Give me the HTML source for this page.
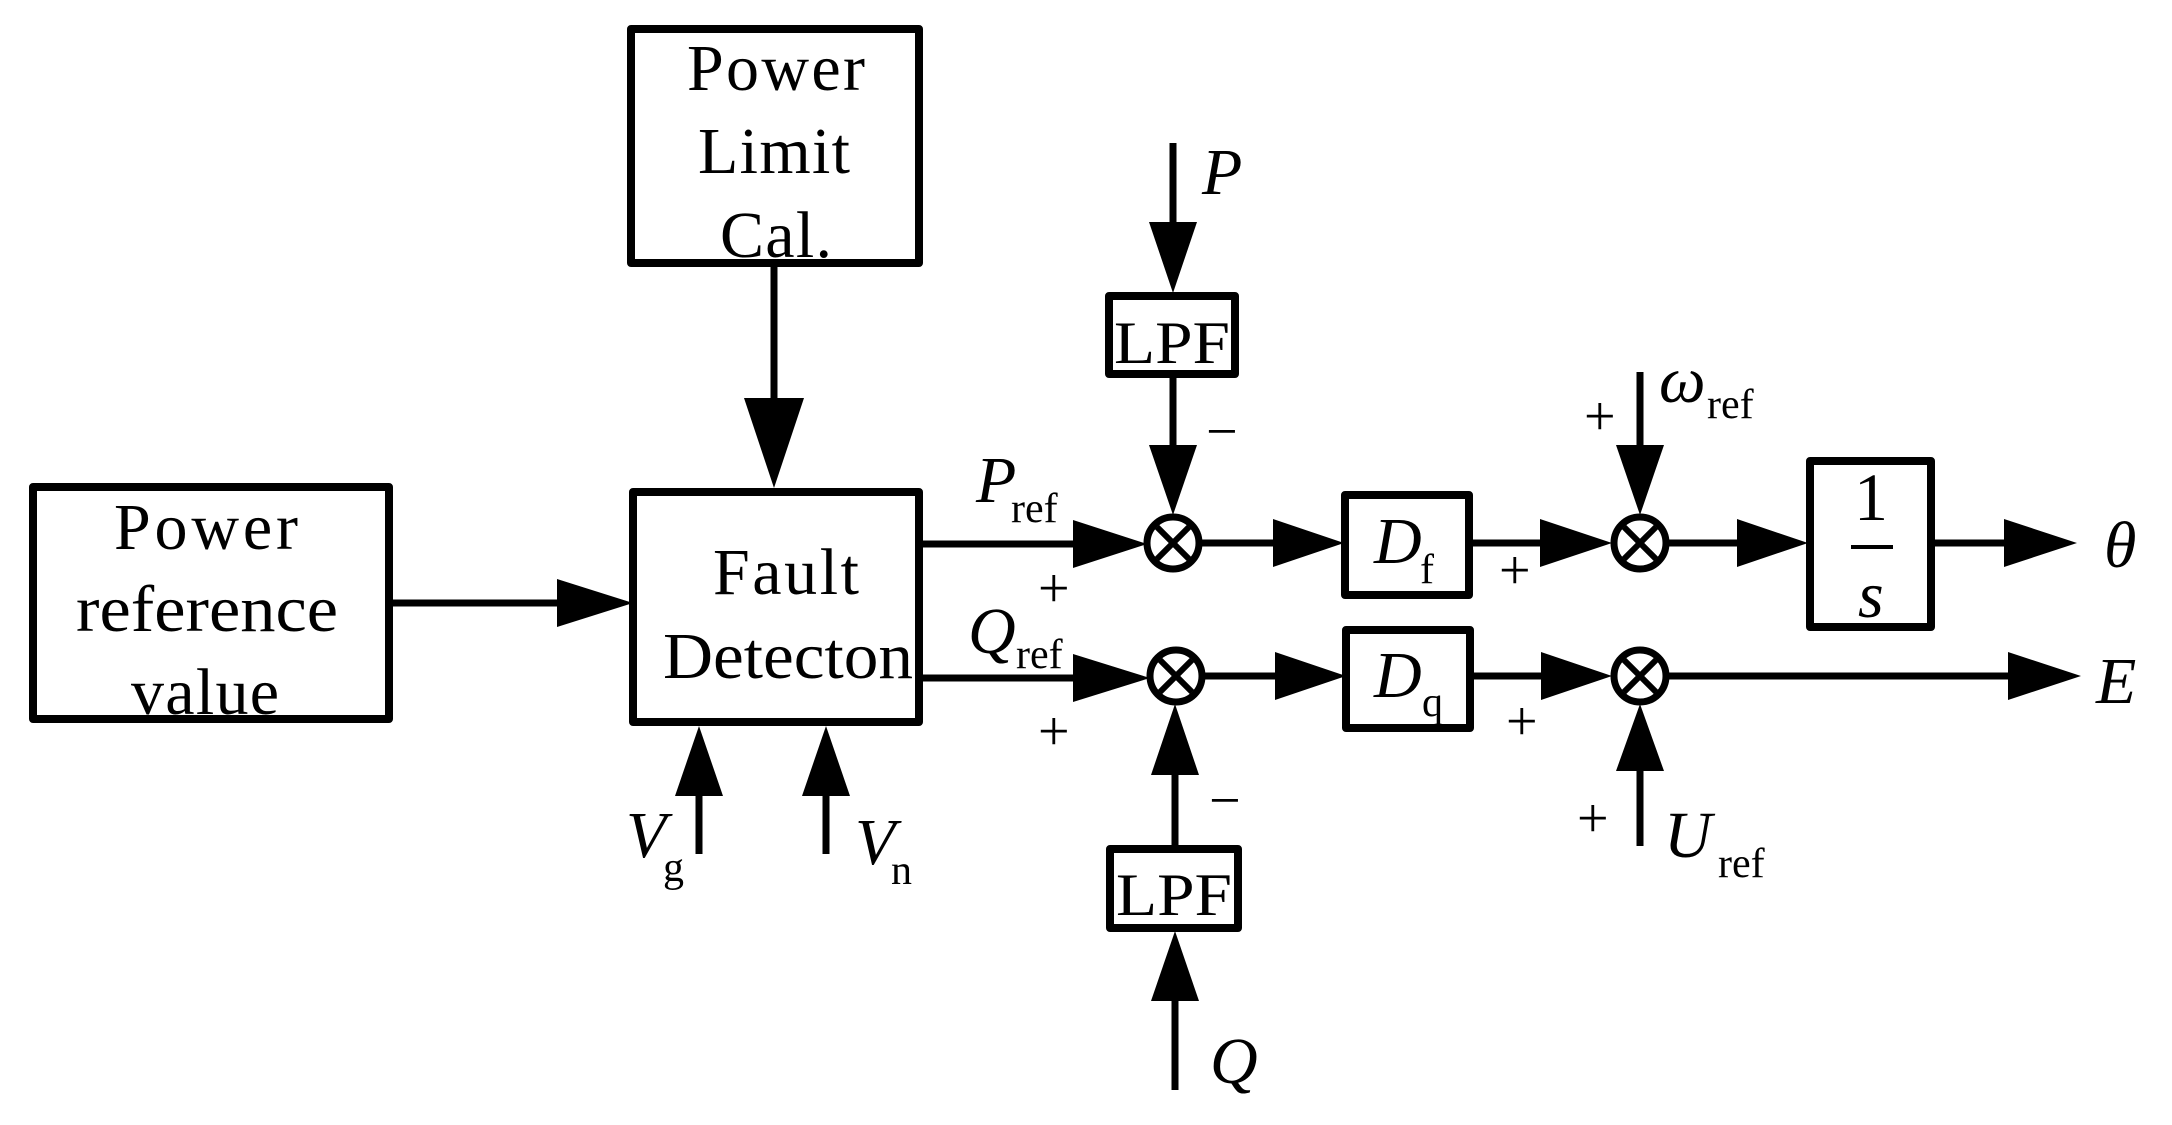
<!DOCTYPE html>
<html><head><meta charset="utf-8"><style>
html,body{margin:0;padding:0;background:#fff;}
svg{display:block;}
text{font-family:"Liberation Serif",serif;fill:#000;}
.i{font-style:italic;}
</style></head><body>
<svg width="2172" height="1125" viewBox="0 0 2172 1125" xmlns="http://www.w3.org/2000/svg">
<g fill="none" stroke="#000" stroke-width="8" stroke-linejoin="round">
<rect x="631" y="29" width="288" height="234"/>
<rect x="33" y="487" width="356" height="232"/>
<rect x="633" y="492" width="286" height="230"/>
<rect x="1109" y="296" width="126" height="78"/>
<rect x="1110" y="849" width="128" height="79"/>
<rect x="1345" y="495" width="124" height="100"/>
<rect x="1346" y="630" width="124" height="98"/>
<rect x="1810" y="461" width="121" height="166"/>
</g>
<g fill="none" stroke="#000" stroke-width="7">
<line x1="774" y1="263" x2="774" y2="400"/>
<line x1="389" y1="603" x2="560" y2="603"/>
<line x1="919" y1="544" x2="1075" y2="544"/>
<line x1="919" y1="678" x2="1075" y2="678"/>
<line x1="699" y1="854" x2="699" y2="790"/>
<line x1="826" y1="854" x2="826" y2="790"/>
<line x1="1173" y1="143" x2="1173" y2="225"/>
<line x1="1173" y1="374" x2="1173" y2="450"/>
<line x1="1201" y1="543" x2="1275" y2="543"/>
<line x1="1469" y1="543" x2="1545" y2="543"/>
<line x1="1640" y1="372" x2="1640" y2="450"/>
<line x1="1668" y1="543" x2="1740" y2="543"/>
<line x1="1931" y1="543" x2="2008" y2="543"/>
<line x1="1204" y1="676" x2="1278" y2="676"/>
<line x1="1470" y1="676" x2="1545" y2="676"/>
<line x1="1668" y1="676" x2="2010" y2="676"/>
<line x1="1640" y1="846" x2="1640" y2="765"/>
<line x1="1175" y1="1090" x2="1175" y2="995"/>
<line x1="1175" y1="849" x2="1175" y2="770"/>
<circle cx="1173" cy="543" r="26"/>
<circle cx="1176" cy="676" r="26"/>
<circle cx="1640" cy="543" r="26"/>
<circle cx="1640" cy="676" r="26"/>
</g>
<g stroke="#000" stroke-width="6">
<line x1="1157" y1="527" x2="1189" y2="559"/><line x1="1189" y1="527" x2="1157" y2="559"/>
<line x1="1160" y1="660" x2="1192" y2="692"/><line x1="1192" y1="660" x2="1160" y2="692"/>
<line x1="1624" y1="527" x2="1656" y2="559"/><line x1="1656" y1="527" x2="1624" y2="559"/>
<line x1="1624" y1="660" x2="1656" y2="692"/><line x1="1656" y1="660" x2="1624" y2="692"/>
<line x1="1851" y1="547" x2="1893" y2="547" stroke-width="4"/>
</g>
<g fill="#000">
<polygon points="744,398 804,398 774,488"/>
<polygon points="557,579 557,627 633,603"/>
<polygon points="1073,520 1073,568 1147,544"/>
<polygon points="1073,654 1073,702 1150,678"/>
<polygon points="675,796 723,796 699,726"/>
<polygon points="802,796 850,796 826,726"/>
<polygon points="1149,222 1197,222 1173,293"/>
<polygon points="1149,445 1197,445 1173,515"/>
<polygon points="1273,519 1273,567 1344,543"/>
<polygon points="1540,519 1540,567 1612,543"/>
<polygon points="1616,445 1664,445 1640,515"/>
<polygon points="1737,519 1737,567 1808,543"/>
<polygon points="2004,519 2004,567 2077,543"/>
<polygon points="1275,652 1275,700 1346,676"/>
<polygon points="1541,652 1541,700 1612,676"/>
<polygon points="2008,652 2008,700 2081,676"/>
<polygon points="1616,771 1664,771 1640,704"/>
<polygon points="1151,1001 1199,1001 1175,931"/>
<polygon points="1151,775 1199,775 1175,704"/>
</g>
<g font-size="66">
<text x="687" y="90" textLength="178" lengthAdjust="spacing">Power</text>
<text x="698" y="173" textLength="152" lengthAdjust="spacing">Limit</text>
<text x="720" y="257" textLength="112" lengthAdjust="spacing">Cal.</text>
<text x="114" y="549" textLength="184" lengthAdjust="spacing">Power</text>
<text x="76" y="631" textLength="262" lengthAdjust="spacingAndGlyphs">reference</text>
<text x="131" y="714" textLength="148" lengthAdjust="spacing">value</text>
<text x="713" y="594" textLength="146" lengthAdjust="spacing">Fault</text>
<text x="663" y="678" textLength="250" lengthAdjust="spacingAndGlyphs">Detecton</text>
<text x="1114" y="363" font-size="60" textLength="116" lengthAdjust="spacingAndGlyphs">LPF</text>
<text x="1116" y="915" font-size="60" textLength="116" lengthAdjust="spacingAndGlyphs">LPF</text>
<text x="1854" y="520" font-size="68">1</text>
</g>
<g font-size="66">
<text class="i" x="976" y="502">P</text><text x="1011" y="522" font-size="42">ref</text>
<text class="i" x="968" y="653">Q</text><text x="1016" y="668" font-size="42">ref</text>
<text class="i" x="626" y="857">V</text><text x="663" y="881" font-size="42">g</text>
<text class="i" x="855" y="864">V</text><text x="891" y="884" font-size="42">n</text>
<text class="i" x="1202" y="194">P</text>
<text class="i" x="1210" y="1083">Q</text>
<text class="i" x="1374" y="563">D</text><text x="1420" y="583" font-size="42">f</text>
<text class="i" x="1374" y="697">D</text><text x="1422" y="716" font-size="42">q</text>
<text class="i" x="1659" y="402">ω</text><text x="1707" y="418" font-size="42">ref</text>
<text class="i" x="1664" y="857">U</text><text x="1718" y="877" font-size="42">ref</text>
<text class="i" x="1858" y="617">s</text>
<text class="i" x="2104" y="567">θ</text>
<text class="i" x="2096" y="703">E</text>
</g>
<g font-size="56">
<text x="1038" y="607">+</text>
<text x="1038" y="750">+</text>
<text x="1499" y="589">+</text>
<text x="1506" y="740">+</text>
<text x="1584" y="435">+</text>
<text x="1577" y="837">+</text>
<text x="1206" y="450">−</text>
<text x="1209" y="819">−</text>
</g>
</svg>
</body></html>
